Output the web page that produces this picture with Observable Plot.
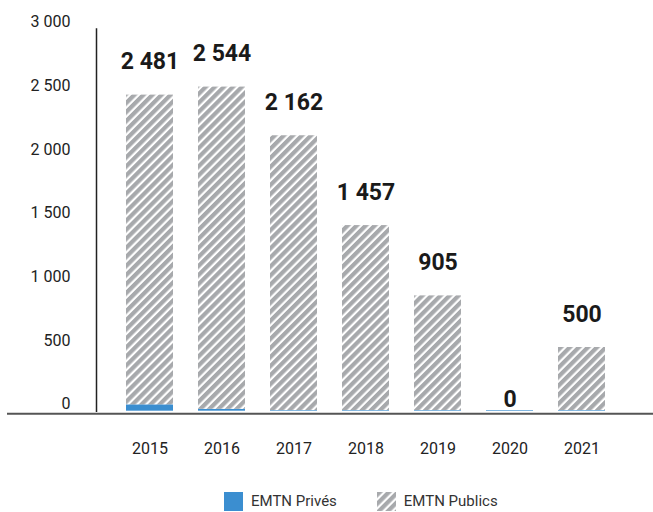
<!DOCTYPE html>
<html>
<head>
<meta charset="utf-8">
<script src="https://cdn.jsdelivr.net/npm/d3@7"></script>
<script src="https://cdn.jsdelivr.net/npm/@observablehq/plot@0.6"></script>
<style>
  body { margin: 0; background: #fff; font-family: "Roboto", sans-serif; }
  #legend { display: flex; align-items: center; justify-content: flex-start; padding-left: 224px; margin-top: 10px; font-size: 15px; line-height: 19px; color: #333; }
  #legend .item { display: flex; align-items: center; margin-right: 40px; }
  #legend .sw { width: 19px; height: 19px; margin-right: 8px; }
</style>
</head>
<body>
<div id="chart"></div>
<div id="legend"></div>
<script>
const years = ["2015", "2016", "2017", "2018", "2019", "2020", "2021"];
const prives = [50, 15, 5, 5, 5, 5, 5];
const publics = [2431, 2529, 2157, 1452, 900, 0, 495];
const totals = [2481, 2544, 2162, 1457, 905, 0, 500];
const yTicks = [0, 500, 1000, 1500, 2000, 2500, 3000];

const blue = "#3b8ed0";
const grey = "#a7a9ac";
const font = '"Roboto", sans-serif';

const rows = years.map((y, i) => ({year: y, prives: prives[i], publics: publics[i], total: totals[i]}));
const fmt = d => d3.format(",")(d).replace(/,/g, " ");

const chart = Plot.plot({
  width: 653,
  height: 482,
  marginLeft: 96,
  marginRight: 18,
  marginTop: 28.5,
  marginBottom: 71.3,
  style: {fontFamily: font, fontSize: "16px", color: "#222", background: "#fff"},
  x: {domain: years, paddingInner: 0.341, paddingOuter: 0.371, label: null},
  y: {domain: [0, 3000], label: null},
  marks: [
    Plot.axisY({ticks: yTicks, tickSize: 0, tickPadding: 26, tickFormat: fmt, dy: -7, fontSize: 16}),
    Plot.axisX({tickSize: 0, tickPadding: 31, fontSize: 16}),
    Plot.frame({anchor: "left", stroke: "#222", strokeWidth: 1.5}),
    Plot.barY(rows, {x: "year", y1: 0, y2: "prives", fill: blue}),
    Plot.barY(rows, {x: "year", y1: "prives", y2: d => d.prives + d.publics, fill: "url(#hatch)"}),
    Plot.ruleY([0], {stroke: "#555", strokeWidth: 2, dy: 2.5, insetLeft: -89, insetRight: -18}),
    Plot.text(rows.filter(d => d.total > 0), {x: "year", y: "total", text: d => fmt(d.total), lineAnchor: "bottom", dy: -26, fontSize: 23, fontWeight: "bold", fill: "#1a1a1a"}),
    Plot.text(rows.filter(d => d.total === 0), {x: "year", y: "total", text: d => fmt(d.total), lineAnchor: "bottom", dy: -4, fontSize: 23, fontWeight: "bold", fill: "#1a1a1a"})
  ]
});

const ns = "http://www.w3.org/2000/svg";
function addPattern(svg, id) {
  const defs = document.createElementNS(ns, "defs");
  defs.innerHTML = `<pattern id="${id}" patternUnits="userSpaceOnUse" width="6.4" height="6.4" patternTransform="rotate(45)">
    <rect width="6.4" height="6.4" fill="#fff"/><rect width="4.2" height="6.4" fill="${grey}"/></pattern>`;
  svg.insertBefore(defs, svg.firstChild);
}
addPattern(chart, "hatch");
document.getElementById("chart").appendChild(chart);

const legend = document.getElementById("legend");
legend.innerHTML = `
  <div class="item"><div class="sw" style="background:${blue}"></div><span>EMTN Privés</span></div>
  <div class="item"><svg class="sw" width="19" height="19"><defs><pattern id="hatch2" patternUnits="userSpaceOnUse" width="6.4" height="6.4" patternTransform="rotate(45)"><rect width="6.4" height="6.4" fill="#fff"/><rect width="4.2" height="6.4" fill="${grey}"/></pattern></defs><rect width="19" height="19" fill="url(#hatch2)"/></svg><span>EMTN Publics</span></div>`;
</script>
</body>
</html>
